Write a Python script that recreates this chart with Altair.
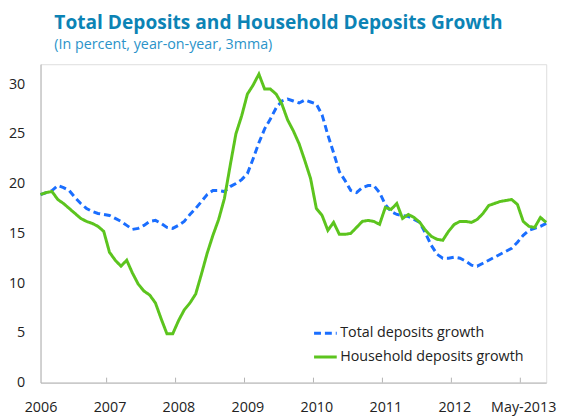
import altair as alt
import pandas as pd

# Monthly observations, Jan-2006 (index 0) to May-2013 (index 88)
total_growth = [
    18.9, 19.1, 19.3, 19.8, 19.6, 19.3, 18.6, 18.0, 17.5, 17.2,
    17.0, 16.9, 16.8, 16.5, 16.2, 15.8, 15.4, 15.5, 15.8, 16.2,
    16.3, 16.0, 15.6, 15.5, 15.8, 16.2, 16.9, 17.5, 18.2, 18.9,
    19.3, 19.3, 19.2, 19.7, 20.0, 20.4, 21.0, 22.5, 24.1, 25.5,
    26.5, 27.6, 28.3, 28.5, 28.3, 28.1, 28.4, 28.2, 28.0, 26.9,
    24.9, 23.1, 21.2, 20.3, 19.3, 19.1, 19.6, 19.8, 19.8, 19.1,
    17.9, 17.2, 16.9, 16.8, 16.7, 16.4, 16.1, 15.0, 13.8, 12.9,
    12.5, 12.5, 12.6, 12.5, 12.2, 11.8, 11.7, 12.0, 12.3, 12.6,
    12.9, 13.2, 13.5, 14.1, 14.8, 15.3, 15.5, 15.7, 16.0,
]
household_growth = [
    18.9, 19.1, 19.2, 18.4, 18.0, 17.5, 17.0, 16.5, 16.2, 16.0,
    15.7, 15.2, 13.1, 12.3, 11.7, 12.3, 11.0, 9.9, 9.2, 8.8,
    8.0, 6.4, 4.9, 4.9, 6.2, 7.3, 8.0, 8.9, 10.9, 13.0,
    14.8, 16.4, 18.5, 21.8, 25.0, 26.8, 29.0, 29.9, 31.0, 29.5,
    29.5, 29.0, 28.0, 26.4, 25.3, 24.0, 22.3, 20.5, 17.5, 16.8,
    15.3, 16.1, 14.9, 14.9, 15.0, 15.6, 16.2, 16.3, 16.2, 15.9,
    17.6, 17.4, 18.0, 16.5, 16.9, 16.6, 16.1, 15.3, 14.7, 14.4,
    14.3, 15.2, 15.9, 16.2, 16.2, 16.1, 16.4, 17.0, 17.8, 18.0,
    18.2, 18.3, 18.4, 17.9, 16.2, 15.7, 15.6, 16.6, 16.1,
]
series_names = ["Total deposits growth", "Household deposits growth"]
label_positions = [0, 12, 24, 36, 48, 60, 72, 84]
x_labels = ["2006", "2007", "2008", "2009", "2010", "2011", "2012", "May-2013"]
tick_positions = [11.5, 23.5, 35.5, 47.5, 59.5, 71.5, 83.5]

months = list(range(len(total_growth)))
df = pd.concat([
    pd.DataFrame({"m": months, "v": total_growth, "s": series_names[0]}),
    pd.DataFrame({"m": months, "v": household_growth, "s": series_names[1]}),
])
ticks_df = pd.DataFrame({"t": tick_positions})

W, H = 513, 323
FONT = "Open Sans"
label_expr = "[" + ",".join("'%s'" % l for l in x_labels) + "][round(datum.value/12)]"

xscale = alt.Scale(domain=[0, 88], nice=False, zero=False)

legend_kw = dict(title=None, orient="none", legendX=276, legendY=260,
                 symbolType="stroke", symbolSize=529, symbolStrokeWidth=3,
                 labelFont=FONT, labelFontSize=14.5, labelColor="#222222",
                 labelOffset=2, rowPadding=4, labelLimit=400)

lines = alt.Chart(df).mark_line(strokeWidth=3).encode(
    x=alt.X("m:Q", scale=xscale,
            axis=alt.Axis(values=label_positions, labelExpr=label_expr, title=None,
                          grid=False, ticks=False, domain=True, domainColor="#b3b3b3",
                          labelPadding=18, labelFontSize=14.5, labelFont=FONT,
                          labelColor="#222222", labelOverlap=False, labelFlush=False)),
    y=alt.Y("v:Q", scale=alt.Scale(domain=[0, 32], nice=False),
            axis=alt.Axis(values=[0, 5, 10, 15, 20, 25, 30], title=None, grid=False,
                          ticks=False, domain=True, domainColor="#b3b3b3",
                          labelPadding=16, labelFontSize=14.5, labelFont=FONT,
                          labelColor="#222222")),
    color=alt.Color("s:N", scale=alt.Scale(domain=series_names, range=["#1A6EFF", "#5CC41E"]),
                    legend=alt.Legend(**legend_kw)),
    strokeDash=alt.StrokeDash("s:N", scale=alt.Scale(domain=series_names, range=[[7, 4], [1, 0]]),
                              legend=alt.Legend(**legend_kw)),
    order=alt.Order("m:Q"),
)

tick_marks = alt.Chart(ticks_df).mark_rule(color="#b3b3b3", strokeWidth=1).encode(
    x=alt.X("t:Q", scale=xscale),
    y=alt.value(H - 5),
    y2=alt.value(H),
)

chart = alt.layer(tick_marks, lines).properties(
    width=W, height=H,
    autosize=alt.AutoSizeParams(type="none"),
    padding={"left": 33, "top": 54, "right": 14, "bottom": 40},
    title=alt.TitleParams(
        text="Total Deposits and Household Deposits Growth",
        subtitle="(In percent, year-on-year, 3mma)",
        anchor="start", frame="group", dx=14, offset=12,
        font=FONT, fontSize=19.4, fontWeight="bold", color="#0C83B5",
        subtitleFont=FONT, subtitleFontSize=14.5, subtitleColor="#2A93C9",
        subtitlePadding=5,
    ),
).configure_view(stroke="#d9d9d9", strokeWidth=1).configure(background="white")

chart.save("out.html", embed_options={"renderer": "svg", "actions": False})
